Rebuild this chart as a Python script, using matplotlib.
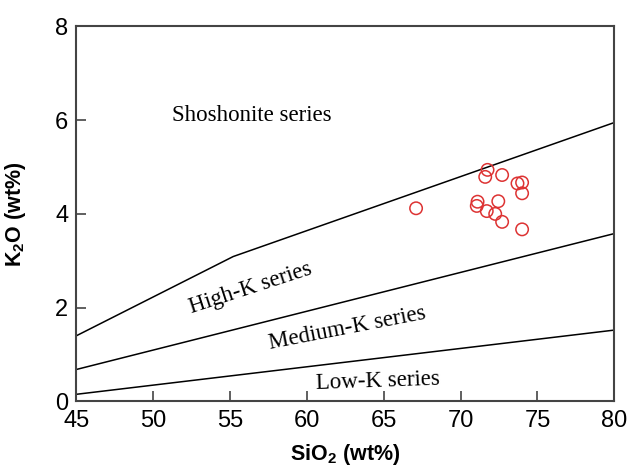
import numpy as np
import matplotlib
matplotlib.use("Agg")
import matplotlib.pyplot as plt

plt.rcParams['font.family'] = 'Liberation Sans'
plt.rcParams['mathtext.fontset'] = 'custom'
plt.rcParams['mathtext.rm'] = 'Liberation Sans'
plt.rcParams['mathtext.bf'] = 'Liberation Sans:bold'

# sample compositions (wt%)
sio2 = [67.1, 71.75, 71.6, 72.7, 73.7, 74.0, 74.0, 71.1, 71.05, 72.45, 71.7, 72.25, 72.7, 74.0]
k2o = [4.12, 4.94, 4.79, 4.83, 4.65, 4.67, 4.44, 4.26, 4.17, 4.27, 4.06, 4.00, 3.83, 3.67]

# series boundaries
shosh_x = [45, 55.2, 80]
shosh_y = [1.40, 3.09, 5.95]
highk_x = [45, 80]
highk_y = [0.68, 3.58]
lowk_x = [45, 80]
lowk_y = [0.15, 1.52]

fig = plt.figure(figsize=(6.32, 4.68), dpi=100)
ax = fig.add_axes([0.121, 0.1425, 0.851, 0.8009])

for xs, ys in [(shosh_x, shosh_y), (highk_x, highk_y), (lowk_x, lowk_y)]:
    ax.plot(xs, ys, color='black', linewidth=1.1)

ax.scatter(sio2, k2o, s=80, facecolors='none', edgecolors='#dd3333', linewidths=1.1, zorder=3)

serif = 'Liberation Serif'
ax.text(56.4, 6.11, 'Shoshonite series', family=serif, fontsize=16.5, ha='center', va='center')
ax.text(56.3, 2.42, 'High-K series', family=serif, fontsize=16.5, ha='center', va='center', rotation=18)
ax.text(62.6, 1.56, 'Medium-K series', family=serif, fontsize=16.5, ha='center', va='center', rotation=11)
ax.text(64.6, 0.43, 'Low-K series', family=serif, fontsize=16.5, ha='center', va='center', rotation=2)

ax.set_xlim(45, 80)
ax.set_ylim(0, 8)
ax.set_xticks(np.arange(45, 81, 5))
ax.set_yticks([0, 2, 4, 6, 8])
ax.tick_params(direction='in', length=7, width=1.2, color='#444444', labelsize=17, pad=6)
for sp in ax.spines.values():
    sp.set_color('#444444')
    sp.set_linewidth(1.5)

ax.set_xlabel(r'SiO$_\mathbf{2}$ (wt%)', fontsize=15.5, fontweight='bold')
ax.set_ylabel(r'K$_\mathbf{2}$O (wt%)', fontsize=15.5, fontweight='bold')
ax.xaxis.set_label_coords(0.5, -0.108)
ax.yaxis.set_label_coords(-0.09, 0.5)

fig.savefig('out.png', dpi=100)
